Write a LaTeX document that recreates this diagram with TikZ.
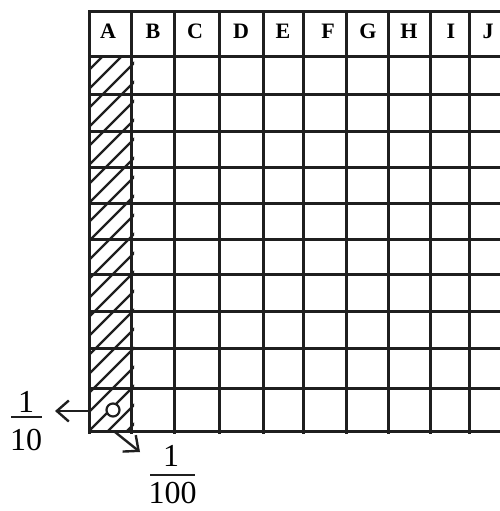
\documentclass[tikz,border=0pt]{standalone}
\usepackage{fontspec}
\setmainfont{Liberation Serif}
\usetikzlibrary{arrows.meta}
\begin{document}
\begin{tikzpicture}[x=1pt,y=-1pt,
  gridline/.style={line width=3pt, color=black!88},
  hatchline/.style={line width=2.4pt, color=black!88},
  head/.style={font=\fontsize{22}{22}\selectfont\bfseries, anchor=base, inner sep=0pt},
  fracnum/.style={font=\fontsize{32}{32}\selectfont, anchor=base, inner sep=0pt, text depth=0pt},
  fracbar/.style={line width=2pt, color=black!88},
  pointer/.style={line width=2.4pt, color=black!88, -{Straight Barb[length=12pt,width=21pt]}},
  ringstyle/.style={circle, draw=black!88, line width=2.2pt, fill=white, minimum size=13pt, inner sep=0pt}]
\useasboundingbox (0,0) rectangle (500,511);
% hatching of column A
\begin{scope}
  \clip (89,57) rectangle (134,431);
  \foreach \k in {-2,...,22} {
    \pgfmathsetmacro\hc{520-19*\k}
    \draw[hatchline] (85,\hc-85) -- (138,\hc-138);
  }
\end{scope}
% grid
\foreach \x in {89,131,174,219,263,303,346,388,430,469}
  \draw[gridline] (\x,11) -- (\x,434);
\foreach \y in {12,57,94,131,167,203,239,274,311,348,388,431}
  \draw[gridline] (88,\y) -- (510,\y);
% headers
\node[head] (hA) at (108,39) {A};
\node[head] (hB) at (153,39) {B};
\node[head] (hC) at (195,39) {C};
\node[head] (hD) at (241,39) {D};
\node[head] (hE) at (283,39) {E};
\node[head] (hF) at (328,39) {F};
\node[head] (hG) at (368,39) {G};
\node[head] (hH) at (409,39) {H};
\node[head] (hI) at (451,39) {I};
\node[head] (hJ) at (488,39) {J};
% ring in the bottom cell of column A
\node[ringstyle] (ring) at (113,410) {};
% arrows
\coordinate (leftA) at (89,411);
\coordinate (leftTip) at (55,411);
\draw[pointer] (leftA) -- (leftTip);
\coordinate (corner) at (115,432);
\coordinate (diagTip) at (140,452);
\draw[pointer] (corner) -- (diagTip);
% fractions
\node[fracnum] (f10n) at (26,412) {1};
\node[fracnum] (f10d) at (26,450) {10};
\draw[fracbar] (11,417) -- (42,417);
\node[fracnum] (f100n) at (171,466) {1};
\node[fracnum] (f100d) at (172.5,503) {100};
\draw[fracbar] (150,475) -- (195,475);
\end{tikzpicture}
\end{document}
